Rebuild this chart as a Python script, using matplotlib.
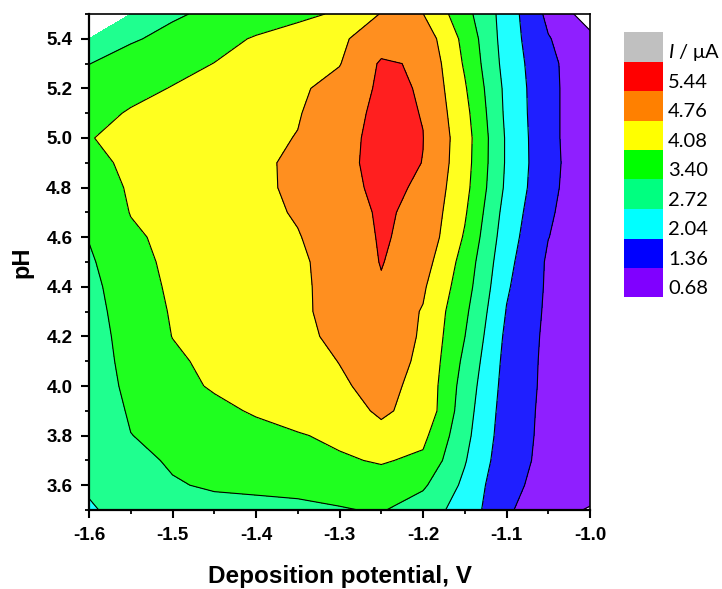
import numpy as np
import matplotlib
matplotlib.use("Agg")
import matplotlib.pyplot as plt
from matplotlib.patches import Rectangle
from matplotlib.font_manager import FontProperties

plt.rcParams["mathtext.fontset"] = "custom"
plt.rcParams["mathtext.it"] = "Lato:italic"
plt.rcParams["mathtext.rm"] = "Lato"

# deposition potential (V) and pH grid
potential = [-1.60, -1.55, -1.50, -1.45, -1.40, -1.35, -1.30,
             -1.25, -1.20, -1.15, -1.10, -1.05, -1.00]
ph = [3.5, 3.6, 3.7, 3.8, 3.9, 4.0, 4.1, 4.2, 4.3, 4.4, 4.5,
      4.6, 4.7, 4.8, 4.9, 5.0, 5.1, 5.2, 5.3, 5.4, 5.5]

# stripping current I / uA, one row per pH value
current = [
    [2.65, 2.95, 3.10, 3.20, 3.25, 3.30, 3.36, 3.45, 3.05, 2.44, 1.45, 0.95, 0.62],
    [2.80, 3.08, 3.35, 3.47, 3.50, 3.52, 3.62, 3.78, 3.50, 2.58, 1.49, 1.19, 1.00],
    [2.85, 3.23, 3.47, 3.60, 3.74, 3.87, 4.00, 4.14, 3.95, 2.77, 1.60, 1.20, 1.00],
    [2.90, 3.39, 3.55, 3.71, 3.87, 4.03, 4.21, 4.65, 4.25, 2.91, 1.67, 1.20, 1.00],
    [2.95, 3.47, 3.69, 3.92, 4.15, 4.37, 4.59, 4.82, 4.62, 3.01, 1.72, 1.20, 1.00],
    [3.00, 3.56, 3.87, 4.15, 4.33, 4.52, 4.70, 4.90, 4.62, 3.11, 1.78, 1.21, 1.00],
    [3.05, 3.62, 3.98, 4.22, 4.40, 4.59, 4.77, 4.98, 4.67, 3.25, 1.83, 1.21, 1.00],
    [3.10, 3.66, 4.09, 4.27, 4.46, 4.66, 4.85, 5.08, 4.70, 3.41, 1.90, 1.22, 1.00],
    [3.15, 3.72, 4.13, 4.31, 4.50, 4.68, 4.90, 5.16, 4.72, 3.54, 2.01, 1.24, 1.00],
    [3.20, 3.81, 4.17, 4.34, 4.50, 4.67, 4.93, 5.38, 4.85, 3.70, 2.12, 1.26, 1.00],
    [3.30, 3.91, 4.19, 4.36, 4.52, 4.68, 4.95, 5.47, 5.05, 3.82, 2.23, 1.27, 1.00],
    [3.43, 3.99, 4.22, 4.39, 4.56, 4.73, 5.05, 5.50, 5.25, 4.01, 2.34, 1.37, 1.00],
    [3.59, 4.10, 4.27, 4.44, 4.61, 4.81, 5.15, 5.52, 5.30, 4.16, 2.45, 1.43, 1.00],
    [3.74, 4.15, 4.31, 4.48, 4.64, 4.87, 5.21, 5.60, 5.35, 4.29, 2.59, 1.49, 1.00],
    [3.91, 4.20, 4.35, 4.50, 4.65, 4.87, 5.23, 5.67, 5.43, 4.36, 2.64, 1.52, 1.00],
    [4.06, 4.21, 4.34, 4.49, 4.63, 4.78, 5.20, 5.66, 5.45, 4.39, 2.64, 1.50, 1.00],
    [3.85, 4.14, 4.28, 4.43, 4.58, 4.72, 5.12, 5.62, 5.42, 4.29, 2.58, 1.50, 1.00],
    [3.63, 3.88, 4.11, 4.29, 4.47, 4.66, 4.98, 5.56, 5.40, 4.15, 2.55, 1.50, 1.00],
    [3.39, 3.63, 3.86, 4.09, 4.31, 4.52, 4.73, 5.52, 5.36, 4.00, 2.46, 1.50, 0.95],
    [3.20, 3.34, 3.55, 3.85, 4.14, 4.40, 4.65, 5.12, 5.18, 3.89, 2.40, 1.40, 0.85],
    [np.nan, 3.17, 3.33, 3.51, 3.71, 3.91, 4.17, 4.79, 4.77, 3.64, 2.41, 1.20, 0.35],
]

levels = [0.68, 1.36, 2.04, 2.72, 3.40, 4.08, 4.76, 5.44, 6.12]
fill_colors = ["#8000ff", "#0000ff", "#00ffff", "#00ff80",
               "#00ff00", "#ffff00", "#ff8000", "#ff0000"]
over_color = "#c0c0c0"

fig = plt.figure(figsize=(7.22, 5.89), dpi=100)
ax = fig.add_axes([89 / 722, 1 - 510 / 589, 501 / 722, 496 / 589])

z = np.array(current)
ax.contourf(potential, ph, z, levels=levels, colors=fill_colors, alpha=0.88)
ax.contour(potential, ph, z, levels=levels, colors="black", linewidths=0.8)

ax.set_xlim(-1.6, -1.0)
ax.set_ylim(3.5, 5.5)
xt = np.arange(-1.6, -0.99, 0.1)
yt = np.arange(3.6, 5.41, 0.2)
ax.set_xticks(xt)
ax.set_xticks(np.arange(-1.55, -1.0, 0.1), minor=True)
ax.set_yticks(yt)
ax.set_yticks(np.arange(3.5, 5.51, 0.2), minor=True)
ax.set_xticklabels([f"{v:.1f}" for v in xt])
ax.set_yticklabels([f"{v:.1f}" for v in yt])

tick_font = FontProperties(family="Liberation Sans", weight="bold", size=13.5)
for lab in ax.get_xticklabels() + ax.get_yticklabels():
    lab.set_fontproperties(tick_font)

ax.tick_params(which="major", direction="out", length=6, width=1.5, pad=6,
               top=False, right=False)
ax.tick_params(which="minor", direction="out", length=3, width=1.3,
               top=False, right=False)
for side in ["left", "bottom"]:
    ax.spines[side].set_linewidth(1.6)
for side in ["top", "right"]:
    ax.spines[side].set_linewidth(1.2)

ax.set_xlabel("Deposition potential, V", family="Liberation Sans",
              weight="bold", size=17.5, labelpad=15)
ax.set_ylabel("pH", family="Liberation Sans", weight="bold", size=17,
              labelpad=9)

# colour key on the right
box_x, box_w = 624 / 722, 39 / 722
box_top, box_h = 1 - 32 / 589, 29.5 / 589
key_colors = [over_color] + fill_colors[::-1]
key_labels = [r"$\mathit{I}$ / μA"] + [f"{v:.2f}" for v in levels[:-1][::-1]]
for i, (c, lab) in enumerate(zip(key_colors, key_labels)):
    y0 = box_top - (i + 1) * box_h
    fig.add_artist(Rectangle((box_x, y0), box_w, box_h, facecolor=c,
                             edgecolor="none", transform=fig.transFigure))
    fig.text(box_x + box_w + 5 / 722, y0 + 0.3 * box_h, lab,
             family=["Lato", "Noto Sans", "DejaVu Sans"], size=14.5,
             va="center", ha="left")

fig.savefig("out.png", dpi=100)
